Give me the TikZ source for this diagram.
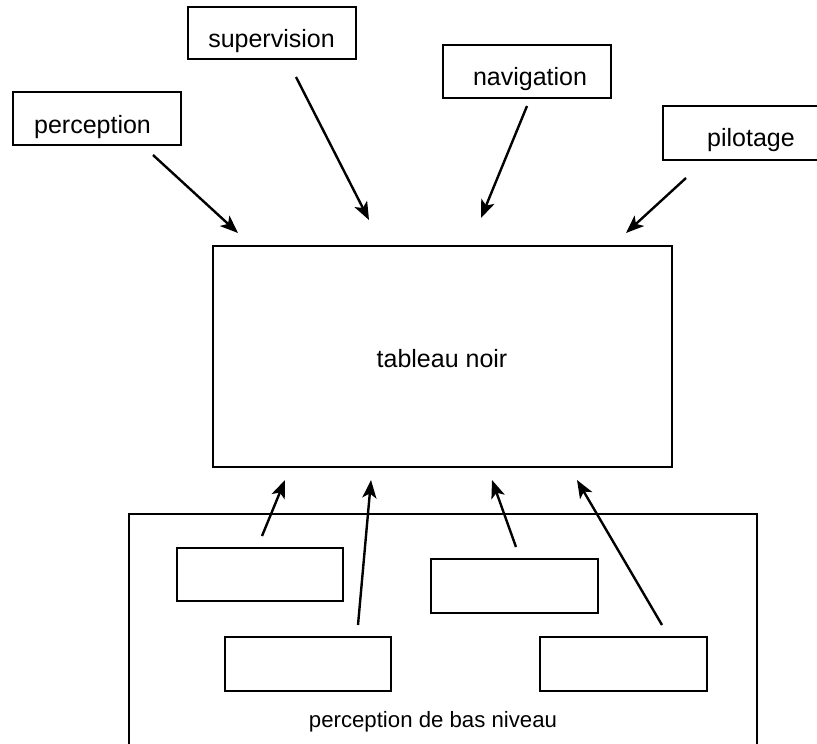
\documentclass[tikz,border=0pt]{standalone}
\usepackage{fontspec}
\setmainfont{Liberation Sans}
\usetikzlibrary{arrows.meta}
\tikzset{
  box/.style={draw=black, line width=1.6pt, fill=none, inner sep=0pt},
  lbl/.style={anchor=base, inner sep=0pt, font=\fontsize{25}{30}\selectfont},
  smalllbl/.style={anchor=base, inner sep=0pt, font=\fontsize{22.2}{26}\selectfont},
  arr/.style={line width=2.4pt, -{Stealth[length=18pt, width=14pt, inset=4.5pt]}},
}
\begin{document}
\begin{tikzpicture}[x=1pt, y=-1pt]
\useasboundingbox (0,0) rectangle (817,744);
\clip (0,0) rectangle (817,744);
% top boxes
\draw[box] (13,92) rectangle (181,145);
\draw[box] (188,7) rectangle (356,59);
\draw[box] (443,45) rectangle (611,98);
\draw[box] (663,106) rectangle (831,160);
\node[lbl] (tperc) at (92.5,133) {perception};
\node[lbl] (tsup) at (271.5,47) {supervision};
\node[lbl] (tnav) at (530,85) {navigation};
\node[lbl] (tpil) at (751,146) {pilotage};
% blackboard
\draw[box] (213,246) rectangle (672,467);
\node[lbl] (tbn) at (442,367) {tableau noir};
% low-level perception
\draw[box] (129,514) rectangle (757,760);
\draw[box] (177,548) rectangle (343,601);
\draw[box] (431,559) rectangle (598,613);
\draw[box] (225,637) rectangle (391,691);
\draw[box] (540,637) rectangle (707,691);
\node[smalllbl] (tbas) at (433,727) {perception de bas niveau};
% arrow end points
\coordinate (a1s) at (153,155); \coordinate (a1e) at (238,233);
\coordinate (a2s) at (296,77);  \coordinate (a2e) at (369,220);
\coordinate (a3s) at (527,106); \coordinate (a3e) at (481,218);
\coordinate (a4s) at (686,178); \coordinate (a4e) at (626,233);
\coordinate (b1s) at (262,536); \coordinate (b1e) at (285,480);
\coordinate (b2s) at (358,625); \coordinate (b2e) at (371,480);
\coordinate (b3s) at (516,547); \coordinate (b3e) at (492,480);
\coordinate (b4s) at (662,625); \coordinate (b4e) at (577,480);
\foreach \s/\e in {a1s/a1e,a2s/a2e,a3s/a3e,a4s/a4e,b1s/b1e,b2s/b2e,b3s/b3e,b4s/b4e}
  \draw[arr] (\s) -- (\e);
\end{tikzpicture}
\end{document}
